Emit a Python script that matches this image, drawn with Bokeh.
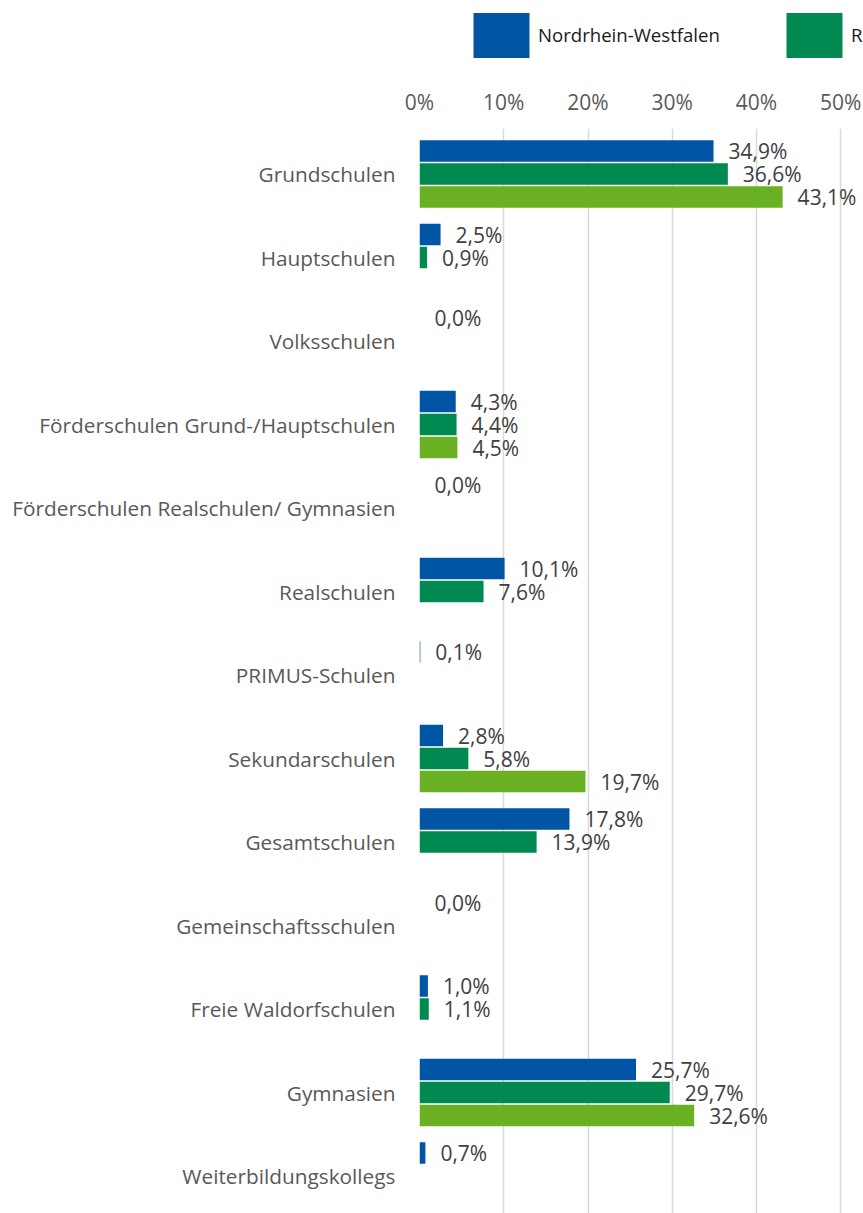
from bokeh.plotting import figure
from bokeh.layouts import column
from bokeh.models import (Range1d, FixedTicker, PrintfTickFormatter, ColumnDataSource,
                          Legend, LegendItem)
from bokeh.embed import file_html
from bokeh.resources import INLINE
from bokeh.core.properties import value

categories = [
    "Grundschulen", "Hauptschulen", "Volksschulen",
    "Förderschulen Grund-/Hauptschulen", "Förderschulen Realschulen/ Gymnasien",
    "Realschulen", "PRIMUS-Schulen", "Sekundarschulen", "Gesamtschulen",
    "Gemeinschaftsschulen", "Freie Waldorfschulen", "Gymnasien", "Weiterbildungskollegs",
]
nrw = [34.9, 2.5, 0.0, 4.3, 0.0, 10.1, 0.1, 2.8, 17.8, 0.0, 1.0, 25.7, 0.7]
region = [36.6, 0.9, None, 4.4, None, 7.6, None, 5.8, 13.9, None, 1.1, 29.7, None]
local = [43.1, None, None, 4.5, None, None, None, 19.7, None, None, None, 32.6, None]
series_names = ["Nordrhein-Westfalen", "Rhein-Sieg-Kreis", "Gemeinde"]
series_colors = ["#0055A4", "#008A52", "#6AB023"]
tick_values = [0, 10, 20, 30, 40, 50]

FONT = "Open Sans"
BAR_STEP = 0.2754
BAR_H = 0.255
W = 863
LEG_H = 70
LEFT = 419

# ---- legend strip (own figure so that nothing is clipped) ----
pl = figure(width=W, height=LEG_H, output_backend="svg", toolbar_location=None,
            x_range=Range1d(0, 1), y_range=Range1d(0, 1),
            min_border_left=LEFT, min_border_right=0, min_border_top=0, min_border_bottom=0,
            outline_line_color=None)
pl.axis.visible = False
pl.grid.visible = False
leg_renderers = [pl.hbar(y=[0.5], left=[0], right=[0], height=0.5, fill_color=c, line_color=None)
                 for c in series_colors]
legend = Legend(items=[LegendItem(label=n, renderers=[r]) for n, r in zip(series_names, leg_renderers)],
                location=(47, 7.4), orientation="horizontal",
                glyph_width=70, glyph_height=56, label_standoff=2, spacing=59,
                padding=0, margin=0, border_line_color=None, background_fill_alpha=0,
                label_text_font=FONT, label_text_font_size="18.6px",
                label_text_color="#1a1a1a")
pl.add_layout(legend)

# ---- main chart ----
p = figure(width=W, height=1213 - LEG_H, output_backend="svg", toolbar_location=None,
           x_range=Range1d(0, 52.7), y_range=Range1d(12.449, -0.545),
           x_axis_location="above",
           min_border_left=LEFT, min_border_right=0, min_border_top=128 - LEG_H,
           min_border_bottom=0, outline_line_color=None)

for j, (vals, color) in enumerate(zip([nrw, region, local], series_colors)):
    off = (j - 1) * BAR_STEP
    ys, xs, labs = [], [], []
    for i, v in enumerate(vals):
        if v is None:
            continue
        ys.append(i + off)
        xs.append(v)
        labs.append(f"{v:.1f}".replace(".", ",") + "%")
    src = ColumnDataSource(dict(y=ys, x=xs, label=labs))
    p.hbar(y="y", left=0, right="x", height=BAR_H, fill_color=color,
           line_color=None, source=src)
    p.text(x="x", y="y", text="label", x_offset=15, text_baseline="middle",
           text_align="left", text_font=value(FONT), text_font_size="21px",
           text_color="#404040", source=src)

# x axis (above)
p.xaxis.ticker = FixedTicker(ticks=tick_values)
p.xaxis.formatter = PrintfTickFormatter(format="%d%%")
p.xaxis.axis_line_color = None
p.xaxis.major_tick_line_color = None
p.xaxis.minor_tick_line_color = None
p.xaxis.major_label_text_font = FONT
p.xaxis.major_label_text_font_size = "21px"
p.xaxis.major_label_text_color = "#595959"
p.xaxis.major_label_standoff = 7

# y axis
p.yaxis.ticker = FixedTicker(ticks=list(range(len(categories))))
p.yaxis.major_label_overrides = {i: c for i, c in enumerate(categories)}
p.yaxis.axis_line_color = None
p.yaxis.major_tick_line_color = None
p.yaxis.minor_tick_line_color = None
p.yaxis.major_label_text_font = FONT
p.yaxis.major_label_text_font_size = "20.8px"
p.yaxis.major_label_text_color = "#595959"
p.yaxis.major_label_standoff = 18

p.ygrid.grid_line_color = None
p.xgrid.ticker = FixedTicker(ticks=tick_values)
p.xgrid.grid_line_color = "#d9d9d9"
p.xgrid.grid_line_width = 1.5

layout = column(pl, p, spacing=0)
open("out.html", "w").write(file_html(layout, INLINE))
